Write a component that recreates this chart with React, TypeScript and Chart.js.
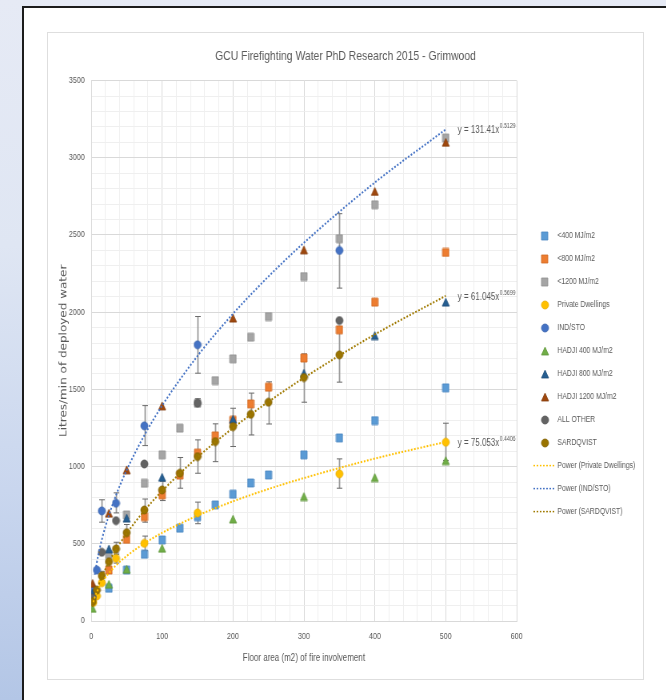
import React, { useEffect, useRef } from 'react';
import { Chart, registerables } from 'chart.js';

Chart.register(...registerables);

const CHART_TITLE = 'GCU Firefighting Water PhD Research 2015 - Grimwood';
const X_AXIS_TITLE = 'Floor area (m2) of fire involvement';
const Y_AXIS_TITLE = 'Litres/min of deployed water';

const X_MIN = 0;
const X_MAX = 600;
const X_STEP = 20;
const X_LABEL_EVERY = 100;
const Y_MIN = 0;
const Y_MAX = 3500;
const Y_STEP = 100;
const Y_LABEL_EVERY = 500;

// ---- scatter series (x = floor area m2, y = litres/min) ----
const lt400X = [2, 25, 50, 75, 100, 125, 150, 175, 200, 225, 250, 300, 350, 400, 500];
const lt400Y = [160, 212, 330, 432, 525, 601, 676, 752, 821, 894, 946, 1076, 1186, 1298, 1510];

const lt800X = [5, 25, 50, 75, 100, 125, 150, 175, 200, 225, 250, 300, 350, 400, 500];
const lt800Y = [190, 330, 529, 676, 817, 945, 1087, 1199, 1300, 1406, 1514, 1703, 1886, 2065, 2387];

const lt1200X = [25, 50, 75, 100, 125, 150, 175, 200, 225, 250, 300, 350, 400, 500];
const lt1200Y = [430, 687, 892, 1076, 1249, 1410, 1557, 1698, 1838, 1972, 2231, 2476, 2696, 3128];

const privX = [3, 8, 15, 35, 75, 150, 350, 500];
const privY = [120, 162, 248, 406, 503, 700, 953, 1158];
const privLo = [null, null, null, 375, 455, 630, 860, 1040];
const privHi = [null, null, null, 440, 550, 770, 1050, 1281];

const indX = [2, 8, 15, 35, 75, 150, 350];
const indY = [210, 330, 713, 763, 1264, 1789, 2400];
const indLo = [null, null, 640, 700, 1136, 1605, 2156];
const indHi = [null, null, 785, 830, 1395, 1972, 2638];

const hadji400X = [2, 25, 50, 100, 200, 300, 400, 500];
const hadji400Y = [82, 238, 335, 471, 660, 806, 929, 1039];

const hadji800X = [2, 25, 50, 100, 200, 300, 400, 500];
const hadji800Y = [180, 467, 666, 931, 1307, 1605, 1849, 2065];

const hadji1200X = [2, 25, 50, 100, 200, 300, 400, 500];
const hadji1200Y = [244, 698, 979, 1393, 1962, 2404, 2782, 3100];

const otherX = [2, 15, 35, 75, 150, 350];
const otherY = [150, 445, 650, 1017, 1411, 1946];
const otherLo = [null, null, null, null, 1395, null];
const otherHi = [null, null, null, null, 1440, null];

const sardX = [2, 8, 15, 25, 35, 50, 75, 100, 125, 150, 175, 200, 225, 250, 300, 350];
const sardY = [125, 200, 292, 384, 467, 572, 719, 849, 957, 1065, 1162, 1259, 1339, 1417, 1577, 1724];
const sardLo = [null, null, 262, 350, 430, 520, 640, 780, 860, 957, 1032, 1130, 1205, 1276, 1417, 1547];
const sardHi = [null, null, 322, 420, 510, 625, 790, 905, 1059, 1173, 1277, 1378, 1476, 1549, 1730, 1900];

// ---- power trend lines ----
const pwrPrivX = [3, 5, 10, 20, 35, 50, 75, 100, 150, 200, 250, 300, 400, 500];
const pwrPrivY = [122, 153, 207, 281, 360, 421, 503, 571, 683, 775, 855, 926, 1052, 1160];
const pwrPrivEq = ['y = 75.053x', '0.4406'];

const pwrIndX = [5, 10, 20, 35, 50, 75, 100, 150, 200, 250, 300, 400, 500];
const pwrIndY = [300, 428, 611, 814, 977, 1203, 1395, 1717, 1990, 2231, 2450, 2840, 3184];
const pwrIndEq = ['y = 131.41x', '0.5129'];

const pwrSardX = [2, 5, 10, 20, 35, 50, 75, 100, 150, 200, 250, 300, 400, 500];
const pwrSardY = [91, 153, 227, 337, 463, 567, 715, 842, 1061, 1250, 1420, 1575, 1856, 2106];
const pwrSardEq = ['y = 61.045x', '0.5699'];

const FONT = '"Liberation Sans", Arial, sans-serif';
const TEXT = '#595959';
const GRID_MAJOR = '#d9d9d9';
const GRID_MINOR = '#efefef';

// the whole chart is shown horizontally compressed, like the reference picture
const SHOW_W = 595;
const SHOW_H = 646;
const CANVAS_W = 744;
const CANVAS_H = 646;

type Shape = 'square' | 'circle' | 'triangle';

function makeMarker(shape: Shape, fill: string, stroke: string): HTMLCanvasElement {
  let w = 8, h = 8;
  if (shape === 'circle') { w = 9; h = 8; }
  if (shape === 'triangle') { w = 9; h = 8; }
  const c = document.createElement('canvas');
  c.width = w + 2;
  c.height = h + 2;
  const g = c.getContext('2d')!;
  g.fillStyle = fill;
  g.strokeStyle = stroke;
  g.lineWidth = 0.8;
  g.beginPath();
  if (shape === 'square') {
    g.rect(1, 1, w, h);
  } else if (shape === 'circle') {
    g.ellipse(1 + w / 2, 1 + h / 2, w / 2, h / 2, 0, 0, Math.PI * 2);
  } else {
    g.moveTo(1 + w / 2, 1);
    g.lineTo(1 + w, 1 + h);
    g.lineTo(1, 1 + h);
    g.closePath();
  }
  g.fill();
  g.stroke();
  return c;
}

const pts = (xs: number[], ys: number[]) => xs.map((x, i) => ({ x, y: ys[i] }));

export default function App() {
  const ref = useRef<HTMLCanvasElement | null>(null);

  useEffect(() => {
    if (!ref.current) return;

    const seriesDefs = [
      { label: '<400 MJ/m2', xs: lt400X, ys: lt400Y, shape: 'square' as Shape, fill: '#5b9bd5', stroke: '#4a86c0' },
      { label: '<800 MJ/m2', xs: lt800X, ys: lt800Y, shape: 'square' as Shape, fill: '#ed7d31', stroke: '#d06a24' },
      { label: '<1200 MJ/m2', xs: lt1200X, ys: lt1200Y, shape: 'square' as Shape, fill: '#a5a5a5', stroke: '#8f8f8f' },
      { label: 'Private Dwellings', xs: privX, ys: privY, shape: 'circle' as Shape, fill: '#ffc000', stroke: '#e6ac00' },
      { label: 'IND/STO', xs: indX, ys: indY, shape: 'circle' as Shape, fill: '#4472c4', stroke: '#3a63ad' },
      { label: 'HADJI 400 MJ/m2', xs: hadji400X, ys: hadji400Y, shape: 'triangle' as Shape, fill: '#70ad47', stroke: '#5e963a' },
      { label: 'HADJI 800 MJ/m2', xs: hadji800X, ys: hadji800Y, shape: 'triangle' as Shape, fill: '#255e91', stroke: '#1d4d78' },
      { label: 'HADJI 1200 MJ/m2', xs: hadji1200X, ys: hadji1200Y, shape: 'triangle' as Shape, fill: '#9e480e', stroke: '#843b0b' },
      { label: 'ALL OTHER', xs: otherX, ys: otherY, shape: 'circle' as Shape, fill: '#636363', stroke: '#505050' },
      { label: 'SARDQVIST', xs: sardX, ys: sardY, shape: 'circle' as Shape, fill: '#997300', stroke: '#7f6000' },
    ];
    const trendDefs = [
      { label: 'Power (Private Dwellings)', xs: pwrPrivX, ys: pwrPrivY, color: '#ffc000', eq: pwrPrivEq },
      { label: 'Power (IND/STO)', xs: pwrIndX, ys: pwrIndY, color: '#4472c4', eq: pwrIndEq },
      { label: 'Power (SARDQVIST)', xs: pwrSardX, ys: pwrSardY, color: '#a07a00', eq: pwrSardEq },
    ];
    const errorDefs = [
      { xs: privX, lo: privLo, hi: privHi },
      { xs: indX, lo: indLo, hi: indHi },
      { xs: otherX, lo: otherLo, hi: otherHi },
      { xs: sardX, lo: sardLo, hi: sardHi },
    ];

    const markers = seriesDefs.map((s) => makeMarker(s.shape, s.fill, s.stroke));

    const datasets: any[] = [];
    trendDefs.forEach((t) => {
      datasets.push({
        type: 'line',
        label: t.label,
        data: pts(t.xs, t.ys),
        borderColor: t.color,
        borderWidth: 2,
        borderDash: [2, 2],
        pointRadius: 0,
        fill: false,
        showLine: true,
        cubicInterpolationMode: 'monotone',
        order: 0,
      });
    });
    seriesDefs.forEach((s, i) => {
      datasets.push({
        type: 'scatter',
        label: s.label,
        data: pts(s.xs, s.ys),
        pointStyle: markers[i],
        pointRadius: 4,
        backgroundColor: s.fill,
        borderColor: s.stroke,
        order: 20 - i,
      });
    });

    const errorBarPlugin = {
      id: 'errorBars',
      beforeDatasetsDraw(chart: any) {
        const { ctx, scales } = chart;
        const xs = scales.x, ys = scales.y;
        ctx.save();
        errorDefs.forEach((e) => {
          e.xs.forEach((xv: number, i: number) => {
            const lo = e.lo[i], hi = e.hi[i];
            if (lo == null || hi == null) return;
            const px = Math.round(xs.getPixelForValue(xv)) + 0.5;
            const pl = ys.getPixelForValue(lo);
            const ph = ys.getPixelForValue(hi);
            ctx.strokeStyle = '#9a9a9a';
            ctx.lineWidth = 1.8;
            ctx.beginPath();
            ctx.moveTo(px, pl);
            ctx.lineTo(px, ph);
            ctx.stroke();
            ctx.strokeStyle = '#6a6a6a';
            ctx.lineWidth = 1;
            ctx.beginPath();
            ctx.moveTo(px - 3.5, pl);
            ctx.lineTo(px + 3.5, pl);
            ctx.moveTo(px - 3.5, ph);
            ctx.lineTo(px + 3.5, ph);
            ctx.stroke();
          });
        });
        ctx.restore();
      },
    };

    const equationPlugin = {
      id: 'equations',
      afterDatasetsDraw(chart: any) {
        const { ctx, scales } = chart;
        ctx.save();
        ctx.fillStyle = TEXT;
        ctx.textBaseline = 'middle';
        ctx.textAlign = 'left';
        trendDefs.forEach((t) => {
          const n = t.xs.length - 1;
          const px = scales.x.getPixelForValue(t.xs[n]) + 15;
          const py = scales.y.getPixelForValue(t.ys[n]) + 1;
          ctx.font = `10px ${FONT}`;
          ctx.fillText(t.eq[0], px, py);
          const w = ctx.measureText(t.eq[0]).width;
          ctx.font = `6.5px ${FONT}`;
          ctx.fillText(t.eq[1], px + w + 0.5, py - 4);
        });
        ctx.restore();
      },
    };

    const legendPlugin = {
      id: 'customLegend',
      afterDraw(chart: any) {
        const { ctx, chartArea } = chart;
        const mx = chartArea.right + 35;
        const tx = chartArea.right + 51;
        let y = chartArea.top + 155;
        ctx.save();
        ctx.font = `8.5px ${FONT}`;
        ctx.fillStyle = TEXT;
        ctx.textBaseline = 'middle';
        ctx.textAlign = 'left';
        seriesDefs.forEach((s, i) => {
          const m = markers[i];
          ctx.drawImage(m, Math.round(mx - m.width / 2), Math.round(y - m.height / 2));
          ctx.fillText(s.label, tx, y);
          y += 23;
        });
        trendDefs.forEach((t) => {
          ctx.strokeStyle = t.color;
          ctx.lineWidth = 1.5;
          ctx.setLineDash([2, 2]);
          ctx.beginPath();
          ctx.moveTo(mx - 14, y);
          ctx.lineTo(mx + 13, y);
          ctx.stroke();
          ctx.setLineDash([]);
          ctx.fillText(t.label, tx, y);
          y += 23;
        });
        ctx.restore();
      },
    };

    const gridColor = (every: number) => (c: any) =>
      c.tick && Math.round(c.tick.value) % every === 0 ? GRID_MAJOR : GRID_MINOR;

    const chart = new Chart(ref.current, {
      type: 'scatter',
      data: { datasets },
      options: {
        animation: false,
        responsive: false,
        devicePixelRatio: 1,
        layout: { padding: 0 },
        plugins: {
          legend: { display: false },
          tooltip: { enabled: false },
          title: {
            display: true,
            text: CHART_TITLE,
            color: TEXT,
            font: { family: FONT, size: 13, weight: 'normal', lineHeight: 1.2 },
            padding: { top: 16, bottom: 16 },
          },
        },
        scales: {
          x: {
            type: 'linear',
            min: X_MIN,
            max: X_MAX,
            afterFit: (s: any) => { s.height = 58; },
            ticks: {
              stepSize: X_STEP,
              autoSkip: false,
              maxRotation: 0,
              padding: 10,
              color: TEXT,
              font: { family: FONT, size: 9 },
              callback: (v: any) => (Math.round(v) % X_LABEL_EVERY === 0 ? String(v) : ''),
            },
            grid: { color: gridColor(X_LABEL_EVERY), drawTicks: false, lineWidth: 1 },
            border: { color: GRID_MAJOR },
            title: {
              display: true,
              text: X_AXIS_TITLE,
              color: TEXT,
              font: { family: FONT, size: 10, lineHeight: 1.2 },
              padding: { top: 0, bottom: 15 },
            },
          },
          y: {
            type: 'linear',
            min: Y_MIN,
            max: Y_MAX,
            afterFit: (s: any) => { s.width = 54; },
            ticks: {
              stepSize: Y_STEP,
              autoSkip: false,
              padding: 8,
              color: TEXT,
              font: { family: FONT, size: 9 },
              callback: (v: any) => (Math.round(v) % Y_LABEL_EVERY === 0 ? String(v) : ''),
            },
            grid: { color: gridColor(Y_LABEL_EVERY), drawTicks: false, lineWidth: 1 },
            border: { color: GRID_MAJOR },
            title: {
              display: true,
              text: Y_AXIS_TITLE,
              color: TEXT,
              font: { family: '"DejaVu Sans", sans-serif', size: 12, lineHeight: 1.2 },
              padding: { top: 13, bottom: 0 },
            },
          },
          legendSpace: {
            type: 'linear',
            position: 'right',
            display: true,
            afterFit: (s: any) => { s.width = 158; },
            ticks: { display: false },
            grid: { display: false, drawOnChartArea: false, drawTicks: false },
            border: { display: false },
          },
        },
      } as any,
      plugins: [errorBarPlugin, equationPlugin, legendPlugin],
    } as any);

    return () => chart.destroy();
  }, []);

  return (
    <div
      style={{
        position: 'fixed',
        left: 0,
        top: 0,
        width: 666,
        height: 700,
        overflow: 'hidden',
        background: 'linear-gradient(180deg, #e6eaf5 0%, #dfe6f3 35%, #c9d6ee 70%, #b3c6e6 100%)',
      }}
    >
      <div
        style={{
          position: 'absolute',
          left: 22,
          top: 6,
          width: 700,
          height: 720,
          background: '#ffffff',
          borderLeft: '2px solid #1c1c1c',
          borderTop: '2px solid #1c1c1c',
          boxSizing: 'border-box',
        }}
      />
      <div
        style={{
          position: 'absolute',
          left: 47,
          top: 32,
          width: 597,
          height: 648,
          border: '1px solid #dedede',
          boxSizing: 'border-box',
        }}
      />
      <canvas
        ref={ref}
        width={CANVAS_W}
        height={CANVAS_H}
        style={{ position: 'absolute', left: 48, top: 33, width: SHOW_W, height: SHOW_H }}
      />
    </div>
  );
}
